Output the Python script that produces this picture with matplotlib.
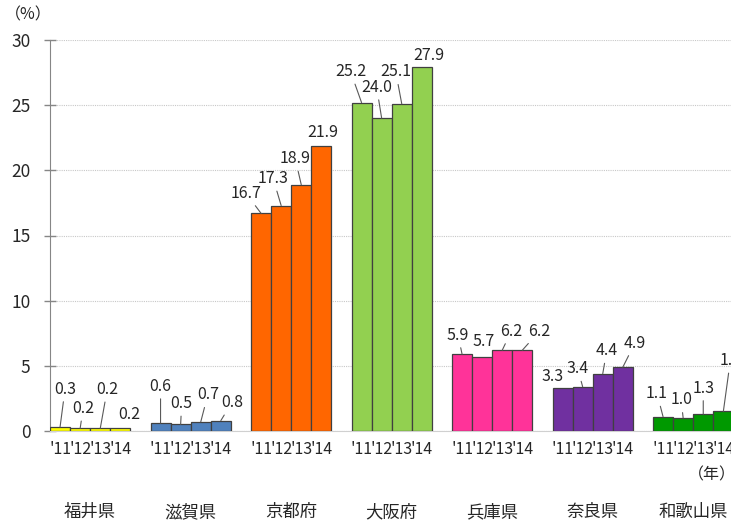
import numpy as np
import matplotlib
matplotlib.use('Agg')
import matplotlib.pyplot as plt

plt.rcParams['font.family'] = ['Noto Sans CJK JP', 'DejaVu Sans']

prefectures = ['福井県', '滋賀県', '京都府', '大阪府', '兵庫県', '奈良県', '和歌山県']
years = ["'11", "'12", "'13", "'14"]
fukui = [0.3, 0.2, 0.2, 0.2]
shiga = [0.6, 0.5, 0.7, 0.8]
kyoto = [16.7, 17.3, 18.9, 21.9]
osaka = [25.2, 24.0, 25.1, 27.9]
hyogo = [5.9, 5.7, 6.2, 6.2]
nara = [3.3, 3.4, 4.4, 4.9]
wakayama = [1.1, 1.0, 1.3, 1.5]
series = [fukui, shiga, kyoto, osaka, hyogo, nara, wakayama]
colors = ['#FFFF00', '#4F81BD', '#FF6600', '#92D050', '#FF3399', '#7030A0', '#009900']

# label offsets from bar top, in pixels (dx, dy)
label_offsets = [
    [(5, 38), (3, 20), (7, 39), (9, 14)],
    [(0, 37), (1, 21), (7, 27), (11, 18)],
    [(-15, 20), (-8, 27), (-6, 26), (1, 13)],
    [(-11, 31), (-5, 31), (-6, 32), (7, 12)],
    [(-4, 19), (1, 15), (9, 19), (17, 19)],
    [(-10, 11), (-5, 18), (4, 23), (12, 24)],
    [(-6, 23), (-2, 18), (0, 26), (7, 51)],
]

W, H = 731, 521
fig = plt.figure(figsize=(W / 100, H / 100), dpi=100)
ax = fig.add_axes([50 / W, 90 / H, 681 / W, 391 / H])

slot_px = 20.1
tick_pos = []
tick_lab = []
for g, vals in enumerate(series):
    xs = np.arange(4) + g * 5
    ax.bar(xs, vals, width=1, align='edge', color=colors[g],
           edgecolor='#404040', linewidth=0.9, zorder=3)
    for i, v in enumerate(vals):
        dx, dy = label_offsets[g][i]
        props = None
        if dy >= 17:
            props = dict(arrowstyle='-', color='#595959', lw=0.8,
                         shrinkA=1, shrinkB=0)
        ax.annotate(f'{v:.1f}', xy=(xs[i] + 0.5, v), xytext=(dx, dy),
                    textcoords='offset pixels', ha='center', va='center',
                    fontsize=11.5, color='#262626', arrowprops=props,
                    zorder=4)
        tick_pos.append(xs[i] + 0.5)
        tick_lab.append(years[i])
    ax.text(g * 5 + 2, -0.207, prefectures[g], transform=ax.get_xaxis_transform(),
            ha='center', va='center', fontsize=12.5, color='#262626')

ax.text((712 - 50) / slot_px, -0.1125, '（年）', transform=ax.get_xaxis_transform(),
        ha='center', va='center', fontsize=11.5, color='#262626')
fig.text(28 / W, 1 - 15 / H, '（%）', ha='center', va='center',
         fontsize=11.5, color='#262626')

ax.set_xlim(0, 681 / slot_px)
ax.set_ylim(0, 30)
ax.set_yticks(np.arange(0, 31, 5))
ax.set_xticks(tick_pos)
ax.set_xticklabels(tick_lab)
ax.tick_params(axis='x', length=0, pad=7, labelsize=11.5, labelcolor='#262626')
ax.tick_params(axis='y', direction='inout', length=8, width=1, color='#868686',
               pad=10, labelsize=12.5, labelcolor='#262626')
ax.yaxis.grid(True, linestyle=(0, (1, 1)), color='#c8c8c8', linewidth=0.8, zorder=0)
ax.set_axisbelow(True)
for s in ['top', 'right']:
    ax.spines[s].set_visible(False)
ax.spines['left'].set_color('#868686')
ax.spines['bottom'].set_color('#d0d0d0')

fig.savefig('out.png', dpi=100)
